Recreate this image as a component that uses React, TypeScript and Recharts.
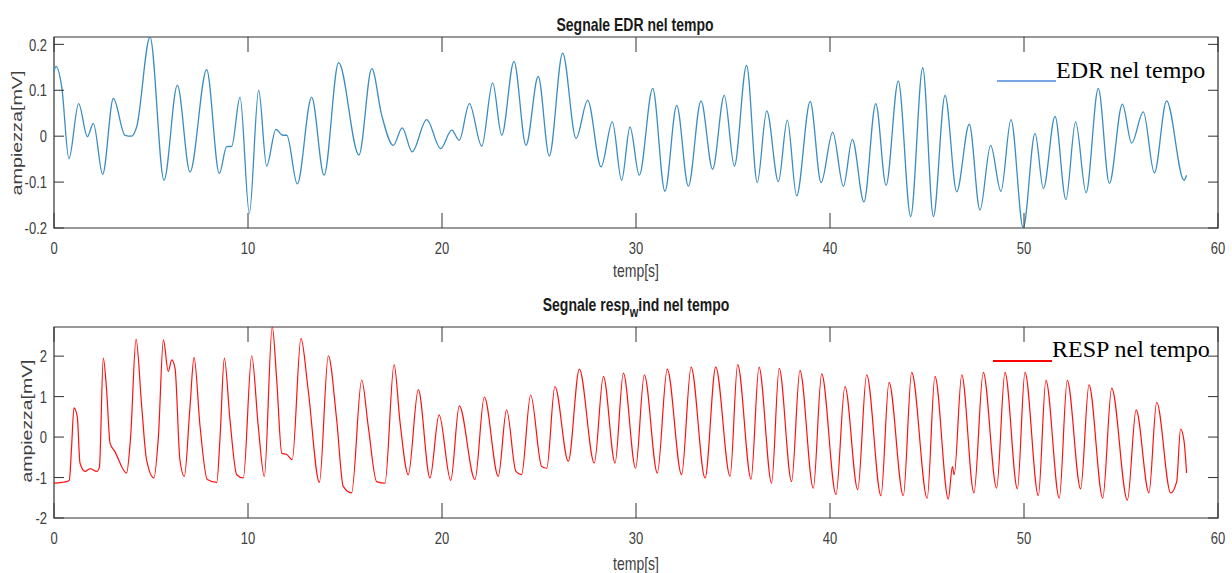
import React from "react";
import { LineChart, Line, XAxis, YAxis, Legend, ReferenceArea } from "recharts";

// ---- data ----
const TIME_TICKS = [0, 10, 20, 30, 40, 50, 60];
const EDR_TICKS = [-0.2, -0.1, 0, 0.1, 0.2];
const RESP_TICKS = [-2, -1, 0, 1, 2];

const EDR_T = [0, 0.1, 0.4, 0.77, 1.27, 1.72, 2.03, 2.51, 3.06, 3.66, 4.0, 4.26, 4.95, 5.67, 6.36, 7.01, 7.87, 8.52, 8.9, 9.16, 9.59, 10.07, 10.55, 10.96, 11.44, 11.79, 12.0, 12.54, 13.28, 13.92, 14.67, 15.72, 16.38, 16.89, 17.49, 17.95, 18.46, 19.21, 19.93, 20.5, 20.89, 21.41, 22.05, 22.61, 23.08, 23.71, 24.33, 24.96, 25.53, 26.22, 26.91, 27.51, 28.2, 28.78, 29.26, 29.69, 30.17, 30.86, 31.49, 32.1, 32.7, 33.35, 33.95, 34.55, 35.07, 35.7, 36.25, 36.74, 37.34, 37.8, 38.28, 38.98, 39.54, 40.14, 40.69, 41.15, 41.75, 42.36, 42.89, 43.52, 44.16, 44.78, 45.33, 45.93, 46.53, 47.18, 47.73, 48.28, 48.81, 49.33, 49.96, 50.57, 51.0, 51.6, 52.16, 52.66, 53.2, 53.83, 54.4, 55.07, 55.55, 56.15, 56.72, 57.35, 58.25, 58.38];
const EDR_V = [0.14, 0.152, 0.107, -0.049, 0.071, -0.001, 0.028, -0.083, 0.082, 0.002, 0.0, 0.02, 0.216, -0.096, 0.111, -0.078, 0.145, -0.081, -0.023, -0.022, 0.085, -0.168, 0.1, -0.065, 0.015, 0.002, 0.002, -0.104, 0.085, -0.085, 0.16, -0.041, 0.147, 0.046, -0.02, 0.018, -0.034, 0.036, -0.027, 0.013, -0.009, 0.071, -0.022, 0.116, 0.002, 0.163, -0.02, 0.13, -0.043, 0.181, -0.005, 0.078, -0.067, 0.031, -0.096, 0.02, -0.085, 0.104, -0.12, 0.067, -0.109, 0.077, -0.072, 0.089, -0.065, 0.154, -0.101, 0.055, -0.099, 0.035, -0.13, 0.076, -0.101, 0.009, -0.109, -0.007, -0.143, 0.071, -0.107, 0.12, -0.175, 0.149, -0.175, 0.089, -0.121, 0.026, -0.161, -0.02, -0.12, 0.036, -0.2, 0.006, -0.114, 0.043, -0.138, 0.031, -0.123, 0.104, -0.103, 0.07, -0.015, 0.053, -0.08, 0.077, -0.096, -0.085];

const RESP_T = [0, 0.4, 0.65, 0.79, 0.9, 1.03, 1.2, 1.34, 1.6, 1.86, 2.2, 2.34, 2.54, 2.71, 2.89, 3.14, 3.74, 3.95, 4.23, 4.52, 4.77, 5.15, 5.38, 5.64, 5.89, 6.07, 6.24, 6.49, 6.72, 7.01, 7.22, 7.53, 7.9, 8.39, 8.56, 8.78, 9.07, 9.42, 9.76, 10.19, 10.53, 10.84, 11.25, 11.48, 11.74, 12.0, 12.28, 12.73, 13.1, 13.68, 14.14, 14.57, 14.91, 15.34, 15.86, 16.2, 16.63, 17.06, 17.53, 17.84, 18.26, 18.78, 19.38, 19.85, 20.45, 20.89, 21.7, 22.18, 22.9, 23.33, 23.81, 24.1, 24.57, 25.14, 25.4, 25.82, 26.51, 27.08, 27.85, 28.32, 28.92, 29.35, 29.98, 30.43, 31.1, 31.61, 32.35, 32.84, 33.56, 34.11, 34.85, 35.24, 35.93, 36.34, 36.99, 37.38, 38.02, 38.45, 39.14, 39.57, 40.31, 40.77, 41.43, 41.89, 42.63, 43.04, 43.78, 44.21, 45.01, 45.41, 46.1, 46.31, 46.4, 46.79, 47.42, 47.9, 48.59, 49.02, 49.66, 50.05, 50.74, 51.13, 51.82, 52.23, 52.92, 53.35, 54.06, 54.52, 55.33, 55.78, 56.44, 56.84, 57.56, 57.87, 58.07, 58.25, 58.38];
const RESP_V = [-1.14, -1.12, -1.1, -1.07, -0.3, 0.72, 0.5, -0.64, -0.85, -0.78, -0.85, -0.75, 1.95, 1.17, -0.15, -0.36, -0.89, 0.01, 2.42, 0.76, -0.56, -1.01, 0.0, 2.4, 1.62, 1.91, 1.7, -0.56, -0.97, 0.75, 1.97, 0.26, -1.05, -1.12, 0.0, 1.95, 0.43, -0.93, -1.01, 2.01, 0.26, -0.97, 2.73, 1.41, -0.4, -0.43, -0.56, 2.44, 1.17, -1.12, 2.01, 0.43, -1.22, -1.38, 1.41, 0.26, -1.1, -1.14, 1.79, 0.35, -0.93, 1.17, -1.01, 0.55, -1.07, 0.77, -1.05, 0.99, -0.97, 0.67, -0.85, -0.93, 1.04, -0.73, -0.77, 1.25, -0.6, 1.68, -0.64, 1.5, -0.64, 1.58, -0.77, 1.54, -0.89, 1.68, -0.93, 1.73, -1.01, 1.73, -0.97, 1.79, -1.04, 1.73, -1.14, 1.7, -1.1, 1.65, -1.26, 1.56, -1.42, 1.25, -1.3, 1.54, -1.45, 1.35, -1.45, 1.6, -1.51, 1.5, -1.53, -0.73, -0.93, 1.54, -1.38, 1.6, -1.26, 1.6, -1.28, 1.6, -1.45, 1.4, -1.51, 1.4, -1.28, 1.29, -1.51, 1.21, -1.56, 0.67, -1.38, 0.86, -1.38, -1.1, 0.2, -0.1, -0.89];

const edrData = EDR_T.map((t, i) => ({ t, v: EDR_V[i] }));
const respData = RESP_T.map((t, i) => ({ t, v: RESP_V[i] }));

// ---- layout / style ----
const W = 1232;
const PLOT_W = 1164;
const PLOT_H = 191;
const AX = "#333333";
const TXT = "#404040";
const SANS = "'Liberation Sans', Arial, sans-serif";
const SERIF = "'Liberation Serif', 'Times New Roman', serif";

const XTick = (props: any) => {
  const { x, y, payload } = props;
  return (
    <g>
      <line x1={x} x2={x} y1={y} y2={y - 15} stroke={AX} strokeWidth={1} />
      <line x1={x} x2={x} y1={y - PLOT_H} y2={y - PLOT_H + 15} stroke={AX} strokeWidth={1} />
      <text
        transform={`translate(${x},${y + 20}) scale(1,1.3)`}
        textAnchor="middle"
        dominantBaseline="central"
        fontSize={13}
        fontFamily={SANS}
        fill={TXT}
      >
        {String(payload.value)}
      </text>
    </g>
  );
};

const YTick = (props: any) => {
  const { x, y, payload } = props;
  return (
    <g>
      <line x1={x} x2={x + 10} y1={y} y2={y} stroke={AX} strokeWidth={1} />
      <line x1={x + PLOT_W - 10} x2={x + PLOT_W} y1={y} y2={y} stroke={AX} strokeWidth={1} />
      <text
        transform={`translate(${x - 7},${y}) scale(1,1.3)`}
        textAnchor="end"
        dominantBaseline="central"
        fontSize={13}
        fontFamily={SANS}
        fill={TXT}
      >
        {String(payload.value)}
      </text>
    </g>
  );
};

const makeLegend = (lineTop: number, textTop: number, lineColor: string) => (props: any) => {
  const item = (props.payload || [])[0];
  const label = item ? item.value : "";
  return (
    <div style={{ position: "relative", width: 230, height: 34 }}>
      <div
        style={{
          position: "absolute",
          left: 0,
          top: lineTop,
          width: 59,
          height: 2,
          background: lineColor,
        }}
      />
      <span
        style={{
          position: "absolute",
          left: 59,
          top: textTop,
          fontFamily: SERIF,
          fontSize: 24,
          lineHeight: "24px",
          color: "#000",
          whiteSpace: "nowrap",
        }}
      >
        {label}
      </span>
    </div>
  );
};

export default function App() {
  return (
    <div
      style={{
        position: "absolute",
        left: 0,
        top: 0,
        width: W,
        height: 573,
        background: "#ffffff",
        overflow: "hidden",
      }}
    >
      <div style={{ position: "absolute", left: 0, top: 0 }}>
        <LineChart width={W} height={280} data={edrData} margin={{ top: 37, right: 14, bottom: 0, left: 0 }}>
          <XAxis
            dataKey="t"
            type="number"
            domain={[0, 60]}
            ticks={TIME_TICKS}
            interval={0}
            height={52}
            tickSize={0}
            tickMargin={0}
            tickLine={false}
            axisLine={false}
            tick={(p: any) => <XTick {...p} />}
          />
          <YAxis
            type="number"
            domain={[-0.2, 0.216]}
            allowDataOverflow
            ticks={EDR_TICKS}
            interval={0}
            width={54}
            tickSize={0}
            tickMargin={0}
            tickLine={false}
            axisLine={false}
            tick={(p: any) => <YTick {...p} />}
          />
          <Legend
            layout="horizontal"
            verticalAlign="middle"
            align="center"
            wrapperStyle={{ position: "absolute", left: 997, top: 55, width: 230, height: 34 }}
            content={makeLegend(25, 3, "#7aa6e6")}
          />
          <Line
            type="monotone"
            dataKey="v"
            name="EDR nel tempo"
            stroke="#3a8dc0"
            strokeWidth={1.3}
            dot={false}
            isAnimationActive={false}
          />
          <ReferenceArea x1={0} x2={60} y1={-0.2} y2={0.216} fill="none" stroke={AX} strokeWidth={1.2} />
        </LineChart>
      </div>

      <div style={{ position: "absolute", left: 0, top: 280 }}>
        <LineChart width={W} height={293} data={respData} margin={{ top: 47, right: 14, bottom: 0, left: 0 }}>
          <XAxis
            dataKey="t"
            type="number"
            domain={[0, 60]}
            ticks={TIME_TICKS}
            interval={0}
            height={55}
            tickSize={0}
            tickMargin={0}
            tickLine={false}
            axisLine={false}
            tick={(p: any) => <XTick {...p} />}
          />
          <YAxis
            type="number"
            domain={[-2, 2.72]}
            allowDataOverflow
            ticks={RESP_TICKS}
            interval={0}
            width={54}
            tickSize={0}
            tickMargin={0}
            tickLine={false}
            axisLine={false}
            tick={(p: any) => <YTick {...p} />}
          />
          <Legend
            layout="horizontal"
            verticalAlign="middle"
            align="center"
            wrapperStyle={{ position: "absolute", left: 993, top: 55, width: 230, height: 34 }}
            content={makeLegend(25, 2, "#ff0000")}
          />
          <Line
            type="monotone"
            dataKey="v"
            name="RESP nel tempo"
            stroke="#ff1010"
            strokeWidth={1.2}
            dot={false}
            isAnimationActive={false}
          />
          <ReferenceArea x1={0} x2={60} y1={-2} y2={2.72} fill="none" stroke={AX} strokeWidth={1.2} />
        </LineChart>
      </div>

      <svg
        width={W}
        height={573}
        style={{ position: "absolute", left: 0, top: 0, pointerEvents: "none" }}
      >
        <text
          transform="translate(635,24) scale(1,1.3)"
          textAnchor="middle"
          dominantBaseline="central"
          fontFamily={SANS}
          fontWeight="bold"
          fontSize={14}
          fill="#1a1a1a"
        >
          Segnale EDR nel tempo
        </text>
        <text
          transform="translate(636,270) scale(1,1.3)"
          textAnchor="middle"
          dominantBaseline="central"
          fontFamily={SANS}
          fontSize={14}
          fill={TXT}
        >
          temp[s]
        </text>
        <text
          transform="translate(17,133) rotate(-90)"
          textAnchor="middle"
          dominantBaseline="central"
          fontFamily={SANS}
          fontSize={14}
          fill={TXT}
          textLength={125}
          lengthAdjust="spacingAndGlyphs"
        >
          ampiezza[mV]
        </text>

        <text
          transform="translate(636,304) scale(1,1.3)"
          textAnchor="middle"
          dominantBaseline="central"
          fontFamily={SANS}
          fontWeight="bold"
          fontSize={14}
          fill="#1a1a1a"
        >
          Segnale resp
          <tspan fontSize={11} dy={6}>w</tspan>
          <tspan dy={-6}>ind nel tempo</tspan>
        </text>
        <text
          transform="translate(636,563) scale(1,1.3)"
          textAnchor="middle"
          dominantBaseline="central"
          fontFamily={SANS}
          fontSize={14}
          fill={TXT}
        >
          temp[s]
        </text>
        <text
          transform="translate(27,421) rotate(-90)"
          textAnchor="middle"
          dominantBaseline="central"
          fontFamily={SANS}
          fontSize={14}
          fill={TXT}
          textLength={123}
          lengthAdjust="spacingAndGlyphs"
        >
          ampiezza[mV]
        </text>
      </svg>
    </div>
  );
}
